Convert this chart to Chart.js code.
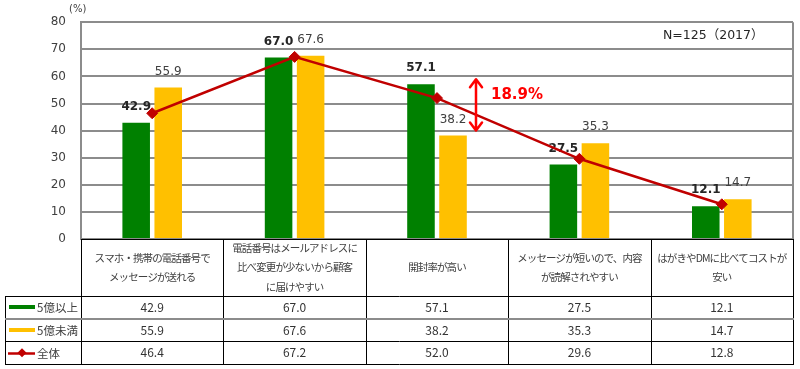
<!DOCTYPE html>
<html>
<head>
<meta charset="utf-8">
<script src="https://cdn.jsdelivr.net/npm/chart.js@4/dist/chart.umd.min.js"></script>
<style>
  html, body { margin: 0; padding: 0; background: #fff; }
  #wrap { width: 800px; height: 369px; }
</style>
</head>
<body>
<div id="wrap"><canvas id="smsChart" width="800" height="369"></canvas></div>
<script>
// categories (table header, one entry per line)
var categories = [
  ["スマホ・携帯の電話番号で", "メッセージが送れる"],
  ["電話番号はメールアドレスに", "比べ変更が少ないから顧客", "に届けやすい"],
  ["開封率が高い"],
  ["メッセージが短いので、内容", "が読解されやすい"],
  ["はがきやDMに比べてコストが", "安い"]
];
var seriesNames = ["5億以上", "5億未満", "全体"];
var over5 = [42.9, 67.0, 57.1, 27.5, 12.1];
var under5 = [55.9, 67.6, 38.2, 35.3, 14.7];
var total = [46.4, 67.2, 52.0, 29.6, 12.8];
var yTicks = { min: 0, max: 80, step: 10 };
var gapText = "18.9%";
var noteText = "N=125（2017）";
var unitText = "(%)";

var GREEN = "#008000";
var YELLOW = "#FFC000";
var RED = "#C00000";
var JP = '"Noto Sans CJK JP", "DejaVu Sans", sans-serif';
var NUM = '"DejaVu Sans", "Noto Sans CJK JP", sans-serif';

// value labels above the bars, drawn before the line goes on top
var barLabels = {
  id: 'barLabels',
  afterDatasetDraw: function(chart, args) {
    if (args.meta.type !== 'bar') return;
    var ctx = chart.ctx;
    var ds = chart.data.datasets[args.index];
    ctx.save();
    ctx.font = (args.index === 0 ? 'bold ' : '') + '12px ' + NUM;
    ctx.fillStyle = args.index === 0 ? '#262626' : '#404040';
    ctx.textAlign = 'center';
    ctx.textBaseline = 'middle';
    args.meta.data.forEach(function(bar, i) {
      ctx.fillText(ds.data[i].toFixed(1), bar.x, bar.y - 16);
    });
    ctx.restore();
  }
};

function hline(ctx, x1, x2, yy, color, w) {
  ctx.beginPath();
  ctx.strokeStyle = color;
  ctx.lineWidth = w;
  var py = w % 2 ? Math.round(yy) + 0.5 : Math.round(yy);
  ctx.moveTo(x1, py);
  ctx.lineTo(x2, py);
  ctx.stroke();
}
function vline(ctx, xx, y1, y2, color, w) {
  ctx.beginPath();
  ctx.strokeStyle = color;
  ctx.lineWidth = w;
  var px = w % 2 ? Math.round(xx) + 0.5 : Math.round(xx);
  ctx.moveTo(px, y1);
  ctx.lineTo(px, y2);
  ctx.stroke();
}
function diamond(ctx, cx, cy, r, color) {
  ctx.beginPath();
  ctx.fillStyle = color;
  ctx.moveTo(cx, cy - r);
  ctx.lineTo(cx + r, cy);
  ctx.lineTo(cx, cy + r);
  ctx.lineTo(cx - r, cy);
  ctx.closePath();
  ctx.fill();
}

// frame, data table under the plot, annotations
var tablePlugin = {
  id: 'tablePlugin',
  afterDraw: function(chart) {
    var ctx = chart.ctx;
    var a = chart.chartArea;
    var xs = chart.scales.x, ys = chart.scales.y;
    var n = categories.length;
    var w = (a.right - a.left) / n;
    var top = a.bottom;
    var headH = 57;
    var rowH = 22.7;
    var tableLeft = 5;
    var rows = [top + headH, top + headH + rowH, top + headH + 2 * rowH, top + headH + 3 * rowH];

    ctx.save();
    // plot frame
    vline(ctx, a.right, a.top, a.bottom, '#8c8c8c', 2);
    hline(ctx, a.left, a.right, a.bottom, '#000', 1);

    // table grid
    for (var i = 0; i <= n; i++) {
      vline(ctx, a.left + i * w, top, rows[3], '#000', 1);
    }
    vline(ctx, tableLeft, rows[0], rows[3], '#000', 1);
    hline(ctx, tableLeft, a.right + 1, rows[0], '#000', 1);
    hline(ctx, tableLeft, a.right + 1, rows[1], '#8c8c8c', 2);
    hline(ctx, tableLeft, a.right + 1, rows[2], '#000', 1);
    hline(ctx, tableLeft, a.right + 1, rows[3], '#000', 1);

    // category header
    ctx.fillStyle = '#404040';
    ctx.textAlign = 'center';
    ctx.textBaseline = 'middle';
    ctx.font = '10.5px ' + JP;
    ctx.letterSpacing = '-0.9px';
    var lh = 19.5;
    categories.forEach(function(lines, i) {
      var cx = xs.getPixelForValue(i);
      var cy = top + headH / 2 - (lines.length - 1) * lh / 2;
      lines.forEach(function(t, j) {
        ctx.fillText(t, cx, cy + j * lh);
      });
    });
    ctx.letterSpacing = '0px';

    // values
    var series = [over5, under5, total];
    ctx.font = '12px ' + JP;
    ctx.fillStyle = '#333';
    series.forEach(function(vals, r) {
      var cy = (rows[r] + rows[r + 1]) / 2;
      vals.forEach(function(v, i) {
        ctx.fillText(v.toFixed(1), xs.getPixelForValue(i), cy);
      });
    });

    // legend column
    ctx.textAlign = 'left';
    ctx.font = '11.5px ' + JP;
    ctx.fillStyle = '#404040';
    var swatch = [GREEN, YELLOW];
    seriesNames.forEach(function(name, r) {
      var cy = (rows[r] + rows[r + 1]) / 2;
      if (r < 2) {
        ctx.fillStyle = swatch[r];
        ctx.fillRect(9, Math.round(cy) - 2, 26, 4);
      } else {
        hline(ctx, 8, 35, cy, RED, 2.5);
        diamond(ctx, 22, cy, 4.5, RED);
      }
      ctx.fillStyle = '#404040';
      ctx.fillText(name, 37, cy + 0.5);
    });

    // gap arrow
    var ax = Math.round(xs.getPixelForValue(2) + 39);
    var ay1 = ys.getPixelForValue(over5[2]) - 5;
    var ay2 = ys.getPixelForValue(under5[2]) - 5;
    ctx.strokeStyle = '#FF0000';
    ctx.lineWidth = 2.5;
    ctx.lineCap = 'round';
    ctx.lineJoin = 'round';
    ctx.beginPath();
    ctx.moveTo(ax, ay1 + 1);
    ctx.lineTo(ax, ay2 - 1);
    ctx.moveTo(ax - 6, ay1 + 8);
    ctx.lineTo(ax, ay1);
    ctx.lineTo(ax + 6, ay1 + 8);
    ctx.moveTo(ax - 6, ay2 - 8);
    ctx.lineTo(ax, ay2);
    ctx.lineTo(ax + 6, ay2 - 8);
    ctx.stroke();
    ctx.fillStyle = '#FF0000';
    ctx.font = 'bold 15px ' + NUM;
    ctx.textAlign = 'left';
    ctx.fillText(gapText, ax + 15, ay1 + 16);

    // note and unit
    ctx.fillStyle = '#262626';
    ctx.font = '12.5px ' + NUM;
    ctx.fillText(noteText, a.right - 130, a.top + 14);
    ctx.font = '10px ' + NUM;
    ctx.fillStyle = '#404040';
    ctx.fillText(unitText, 69, 9);
    ctx.restore();
  }
};

var ctx = document.getElementById('smsChart').getContext('2d');
var smsChart = new Chart(ctx, {
  type: 'bar',
  data: {
    labels: categories,
    datasets: [{
      type: 'bar',
      label: seriesNames[0],
      data: over5,
      backgroundColor: GREEN,
      barPercentage: 0.86,
      categoryPercentage: 0.45,
      order: 1
    }, {
      type: 'bar',
      label: seriesNames[1],
      data: under5,
      backgroundColor: YELLOW,
      barPercentage: 0.86,
      categoryPercentage: 0.45,
      order: 1
    }, {
      type: 'line',
      label: seriesNames[2],
      data: total,
      borderColor: RED,
      borderWidth: 2.5,
      pointStyle: 'rectRot',
      pointRadius: 5.5,
      pointBackgroundColor: RED,
      pointBorderColor: RED,
      pointBorderWidth: 1,
      fill: false,
      order: 0
    }]
  },
  options: {
    responsive: false,
    animation: false,
    layout: {
      padding: { top: 19, right: 7, bottom: 130, left: 0 }
    },
    plugins: {
      legend: { display: false },
      tooltip: { enabled: false }
    },
    scales: {
      x: {
        offset: true,
        grid: { display: false },
        ticks: { display: false },
        border: { display: false },
        afterFit: function(s) { s.height = 0; }
      },
      y: {
        min: yTicks.min,
        max: yTicks.max,
        ticks: {
          stepSize: yTicks.step,
          color: '#404040',
          padding: 15,
          font: { family: 'DejaVu Sans', size: 12 }
        },
        grid: { color: '#8c8c8c', lineWidth: 2, drawTicks: false },
        border: { display: true, color: '#8c8c8c', width: 2 },
        afterFit: function(s) { s.width = 81; }
      }
    }
  },
  plugins: [barLabels, tablePlugin]
});
</script>
</body>
</html>
